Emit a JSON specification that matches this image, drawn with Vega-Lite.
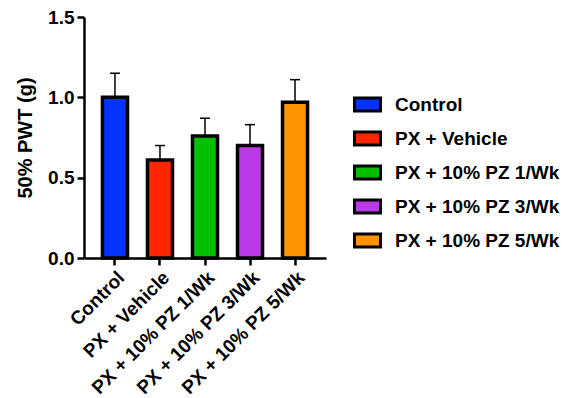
{
  "$schema": "https://vega.github.io/schema/vega-lite/v6.json",
  "width": 242,
  "height": 241,
  "autosize": {"type": "none"},
  "padding": {"left": 84, "top": 17, "right": 242, "bottom": 140},
  "background": "white",
  "config": {"view": {"stroke": null}, "font": "Liberation Sans"},
  "data": {
    "values": [
      {"group": "Control", "mean": 1.0, "upper": 1.15},
      {"group": "PX + Vehicle", "mean": 0.61, "upper": 0.70},
      {"group": "PX + 10% PZ 1/Wk", "mean": 0.76, "upper": 0.87},
      {"group": "PX + 10% PZ 3/Wk", "mean": 0.70, "upper": 0.83},
      {"group": "PX + 10% PZ 5/Wk", "mean": 0.97, "upper": 1.11}
    ]
  },
  "encoding": {
    "x": {
      "field": "group",
      "type": "nominal",
      "sort": null,
      "scale": {"paddingInner": 0.444, "paddingOuter": 0.41},
      "axis": {
        "title": null,
        "labelAngle": -45,
        "labelFont": "Liberation Sans",
        "labelFontWeight": "bold",
        "labelFontSize": 19,
        "labelColor": "black",
        "labelPadding": 3,
        "domainColor": "black",
        "domainWidth": 2.5,
        "tickColor": "black",
        "tickWidth": 2.5,
        "tickSize": 7
      }
    }
  },
  "layer": [
    {
      "mark": {"type": "rule", "color": "black", "strokeWidth": 1.5},
      "encoding": {
        "y": {"field": "mean", "type": "quantitative"},
        "y2": {"field": "upper"}
      }
    },
    {
      "mark": {"type": "tick", "color": "black", "thickness": 1.5, "size": 10, "opacity": 1},
      "encoding": {
        "y": {"field": "upper", "type": "quantitative"}
      }
    },
    {
      "mark": {"type": "bar", "stroke": "black", "strokeWidth": 3.5, "opacity": 1},
      "encoding": {
        "y": {
          "field": "mean",
          "type": "quantitative",
          "scale": {"domain": [0, 1.5], "nice": false},
          "axis": {
            "title": "50% PWT (g)",
            "titleFont": "Liberation Sans",
            "titleFontWeight": "bold",
            "titleFontSize": 20,
            "titleColor": "black",
            "titlePadding": 12,
            "values": [0, 0.5, 1, 1.5],
            "format": ".1f",
            "grid": false,
            "labelFont": "Liberation Sans",
            "labelFontWeight": "bold",
            "labelFontSize": 19,
            "labelColor": "black",
            "labelPadding": 3,
            "domainColor": "black",
            "domainWidth": 2.5,
            "tickColor": "black",
            "tickWidth": 2.5,
            "tickSize": 7
          }
        },
        "fill": {
          "field": "group",
          "type": "nominal",
          "sort": null,
          "scale": {
            "domain": ["Control", "PX + Vehicle", "PX + 10% PZ 1/Wk", "PX + 10% PZ 3/Wk", "PX + 10% PZ 5/Wk"],
            "range": ["#0433FF", "#FF2600", "#00C000", "#BB3AE8", "#FF9300"]
          },
          "legend": {
            "title": null,
            "orient": "none",
            "legendX": 269,
            "legendY": 73,
            "symbolType": "M-1,-0.5H1V0.5H-1Z",
            "symbolSize": 676,
            "symbolStrokeColor": "black",
            "symbolStrokeWidth": 3,
            "symbolOpacity": 1,
            "labelFont": "Liberation Sans",
            "labelFontWeight": "bold",
            "labelFontSize": 19,
            "labelColor": "black",
            "labelOffset": 13,
            "rowPadding": 7,
            "labelLimit": 300
          }
        }
      }
    }
  ]
}
